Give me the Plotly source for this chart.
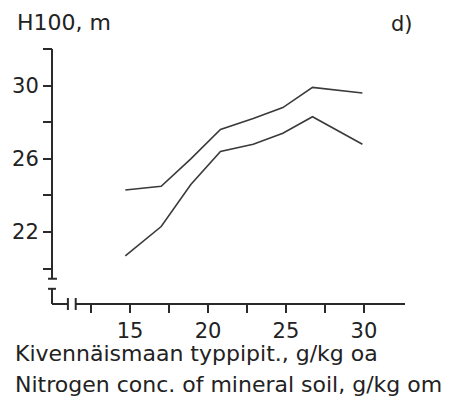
import plotly.graph_objects as go

# Data
n_conc = [14.7, 17.0, 18.9, 20.8, 22.9, 24.8, 26.7, 29.9]
h100_upper = [24.3, 24.5, 26.0, 27.6, 28.2, 28.8, 29.9, 29.6]
h100_lower = [20.7, 22.3, 24.6, 26.4, 26.8, 27.4, 28.3, 26.8]

x_tickvals = [12.5, 15, 17.5, 20, 22.5, 25, 27.5, 30]
x_ticktext = ["", "15", "", "20", "", "25", "", "30"]
y_tickvals = [20, 22, 24, 26, 28, 30, 32]
y_ticktext = ["", "22", "", "26", "", "30", ""]

XR = [10.0, 32.63]
YR = [18.07, 32.0]
W, H = 450, 402
ML, MR, MT, MB = 49, 45, 49, 98
FONT = "DejaVu Sans"
AX = "#2a2a2a"

def fx(v):
    return (v - XR[0]) / (XR[1] - XR[0])

def fy(v):
    return (v - YR[0]) / (YR[1] - YR[0])

fig = go.Figure()
for ys in (h100_upper, h100_lower):
    fig.add_trace(go.Scatter(x=n_conc, y=ys, mode="lines",
                             line=dict(color="#3a3a3a", width=1.6),
                             showlegend=False, hoverinfo="skip"))

shapes = []
def seg(x0, y0, x1, y1):
    shapes.append(dict(type="line", xref="paper", yref="paper",
                       x0=x0, y0=y0, x1=x1, y1=y1,
                       line=dict(color=AX, width=2)))

px_x = 1.0 / (W - ML - MR)
px_y = 1.0 / (H - MT - MB)
yb_hi, yb_lo = 19.45, 18.9
xb_lo, xb_hi = 11.02, 11.52
# y axis with break
seg(0, fy(yb_hi), 0, 1)
seg(0, 0, 0, fy(yb_lo))
seg(-4 * px_x, fy(yb_hi), 5 * px_x, fy(yb_hi))
seg(-4 * px_x, fy(yb_lo), 4 * px_x, fy(yb_lo))
seg(-4 * px_x, 1, 0, 1)
# x axis with break
seg(0, 0, fx(xb_lo), 0)
seg(fx(xb_hi), 0, 1, 0)
seg(fx(xb_lo), 6 * px_y, fx(xb_lo), -6 * px_y)
seg(fx(xb_hi), 6 * px_y, fx(xb_hi), -6 * px_y)

annotations = [
    dict(text="H100, m", xref="paper", yref="paper",
         x=(12 - ML) * px_x, y=1 + (MT - 23) * px_y, xanchor="left", yanchor="middle",
         showarrow=False, font=dict(size=22, color="#222", family=FONT)),
    dict(text="d)", xref="paper", yref="paper",
         x=(389 - ML) * px_x, y=1 + (MT - 24) * px_y, xanchor="left", yanchor="middle",
         showarrow=False, font=dict(size=21, color="#222", family=FONT)),
    dict(text="Kivennäismaan typpipit., g/kg oa", xref="paper", yref="paper",
         x=(10 - ML) * px_x, y=-(353 - (H - MB)) * px_y, xanchor="left", yanchor="middle",
         showarrow=False, font=dict(size=22, color="#222", family=FONT)),
    dict(text="Nitrogen conc. of mineral soil, g/kg om", xref="paper", yref="paper",
         x=(10 - ML) * px_x, y=-(384 - (H - MB)) * px_y, xanchor="left", yanchor="middle",
         showarrow=False, font=dict(size=22, color="#222", family=FONT)),
]

fig.update_layout(
    width=W, height=H,
    margin=dict(l=ML, r=MR, t=MT, b=MB, pad=0),
    paper_bgcolor="white", plot_bgcolor="white",
    shapes=shapes, annotations=annotations,
    xaxis=dict(range=XR, showgrid=False, zeroline=False, showline=False,
               tickmode="array", tickvals=x_tickvals, ticktext=x_ticktext,
               ticks="outside", ticklen=8, tickwidth=2, tickcolor=AX,
               tickfont=dict(size=21, color="#222", family=FONT)),
    yaxis=dict(range=YR, showgrid=False, zeroline=False, showline=False,
               tickmode="array", tickvals=y_tickvals, ticktext=y_ticktext,
               ticks="outside", ticklen=8, tickwidth=2, tickcolor=AX,
               tickfont=dict(size=21, color="#222", family=FONT)),
)

fig.write_html("out.html", config={"displayModeBar": False},
               post_script="document.body.style.margin='0';document.body.style.overflow='hidden';")
